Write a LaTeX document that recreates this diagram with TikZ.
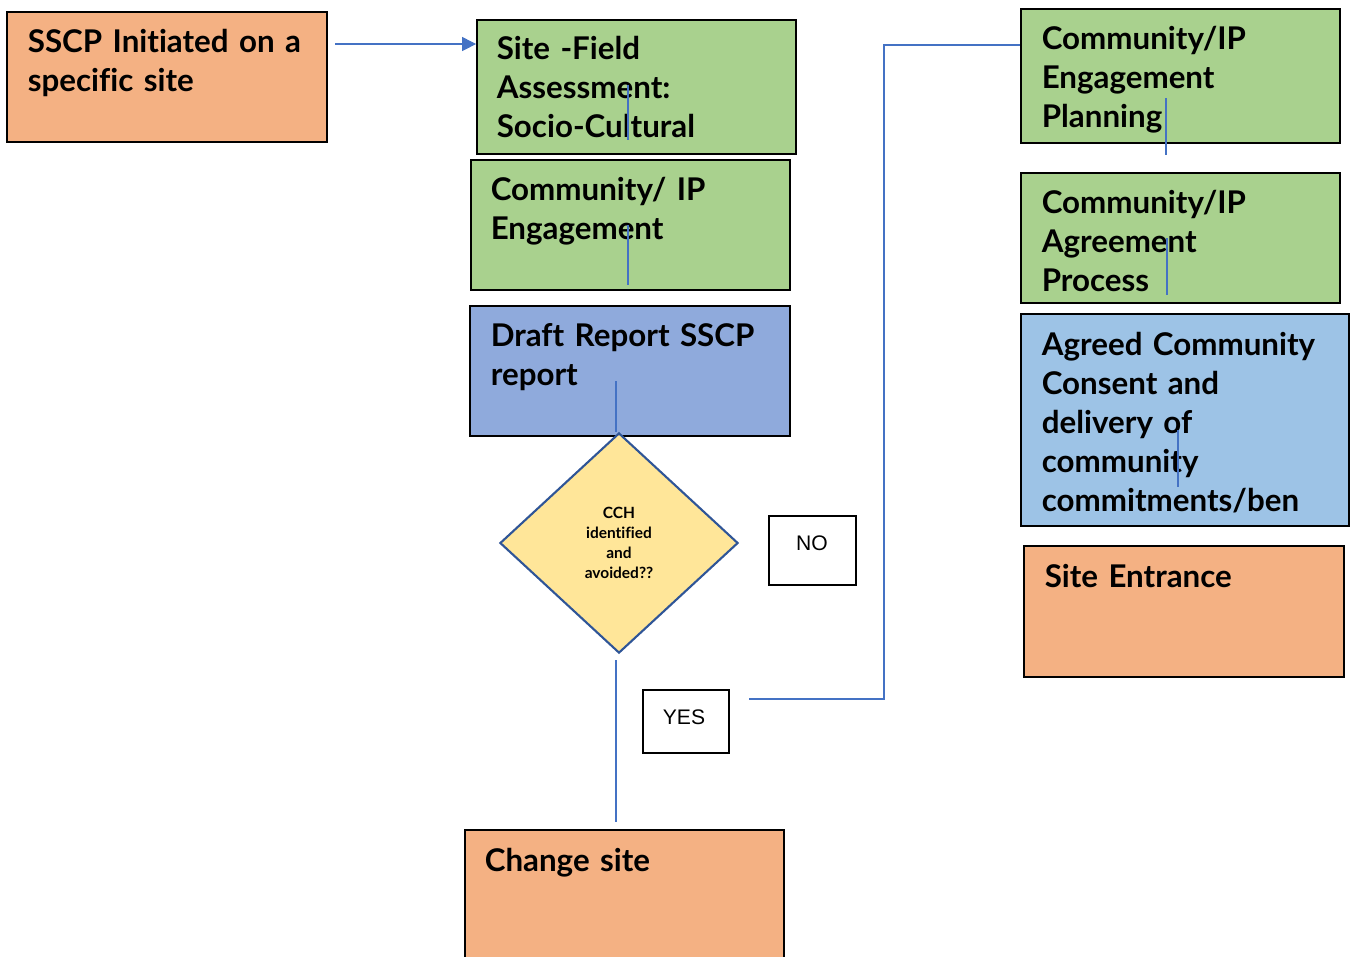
\documentclass[tikz,border=0pt]{standalone}
\usepackage{fontspec}
\setmainfont{Lato}[Ligatures=NoCommon]
\newfontfamily\arialfont{Liberation Sans}
\usetikzlibrary{shapes.geometric}
\usetikzlibrary{arrows.meta}
\definecolor{peach}{HTML}{F4B183}
\definecolor{leafgreen}{HTML}{A9D18E}
\definecolor{cornflower}{HTML}{8FAADC}
\definecolor{skyblue}{HTML}{9DC3E6}
\definecolor{butter}{HTML}{FFE699}
\definecolor{navyedge}{HTML}{2F5597}
\definecolor{linkblue}{HTML}{4472C4}

\tikzset{
  stagebox/.style={draw=black, line width=0.45pt, minimum width=3.2cm, minimum height=1.3cm, inner sep=0pt},
  stagetext/.style={anchor=base west, inner sep=0pt, text width=3.2cm, align=left,
    font=\fontsize{8.9}{11.1}\selectfont\bfseries},
  answerbox/.style={draw=black, line width=0.45pt, fill=white, inner sep=0pt, font=\arialfont\fontsize{6}{7}\selectfont},
  link/.style={draw=linkblue, line width=0.3pt},
}

\begin{document}
\begin{tikzpicture}[x=0.01cm, y=-0.01cm]
        \useasboundingbox (0,0) rectangle (1354,956);

        % Left column
        \node[stagebox, fill=peach, minimum width=3.2cm, minimum height=1.3cm] (init) at (167,77) {};
        \node[stagetext] (initT) at ([shift={(21,41)}]init.north west) {SSCP Initiated on a\\specific site};

        \node[stagebox, fill=leafgreen, minimum width=3.19cm, minimum height=1.34cm] (field) at (636.5,87) {};
        \node[stagetext] (fieldT) at ([shift={(20,40)}]field.north west) {Site -Field\\Assessment:\\Socio-Cultural};

        \node[stagebox, fill=leafgreen, minimum width=3.19cm, minimum height=1.3cm] (engage) at (630.5,225) {};
        \node[stagetext] (engageT) at ([shift={(20,41)}]engage.north west) {Community/ IP\\Engagement};

        \node[stagebox, fill=cornflower, minimum width=3.2cm, minimum height=1.3cm] (draft) at (630,371) {};
        \node[stagetext] (draftT) at ([shift={(21,41)}]draft.north west) {Draft Report SSCP\\report};

        % Decision
        \node[diamond, draw=navyedge, fill=butter, line width=0.6pt, minimum width=2.38cm, minimum height=2.2cm,
          inner sep=0pt, aspect=1.08] (cch) at (619,543) {};
        \node[align=center, inner sep=0pt, font=\fontsize{4.4}{5.7}\selectfont\bfseries] (cchT) at (619,543)
          {CCH\\identified\\and\\avoided??};

        \node[answerbox, minimum width=0.87cm, minimum height=0.69cm] (no) at (812.5,550.5) {};
        \node[inner sep=0pt, font=\arialfont\fontsize{6}{7}\selectfont] (noT) at (812,543) {NO};
        \node[answerbox, minimum width=0.86cm, minimum height=0.63cm] (yes) at (686,721.5) {};
        \node[inner sep=0pt, font=\arialfont\fontsize{6}{7}\selectfont] (yesT) at (684,717) {YES};

        \node[stagebox, fill=peach, minimum width=3.19cm, minimum height=1.4cm] (change) at (624.5,900) {};
        \node[stagetext] (changeT) at ([shift={(20,42)}]change.north west) {Change site};

        % Right column
        \node[stagebox, fill=leafgreen, minimum width=3.19cm, minimum height=1.34cm] (plan) at (1180.5,76) {};
        \node[stagetext] (planT) at ([shift={(21,41)}]plan.north west) {Community/IP\\Engagement\\Planning};

        \node[stagebox, fill=leafgreen, minimum width=3.19cm, minimum height=1.3cm] (agree) at (1180.5,238) {};
        \node[stagetext] (agreeT) at ([shift={(21,41)}]agree.north west) {Community/IP\\Agreement\\Process};

        \node[stagebox, fill=skyblue, minimum width=3.28cm, minimum height=2.12cm] (consent) at (1185,420) {};
        \node[stagetext, text width=3.2cm] (consentT) at ([shift={(21,42)}]consent.north west)
          {Agreed Community\\Consent and\\delivery of\\community\\commitments/ben};

        \node[stagebox, fill=peach, minimum width=3.2cm, minimum height=1.31cm] (entrance) at (1184,611.5) {};
        \node[stagetext] (entranceT) at ([shift={(21,42)}]entrance.north west) {Site Entrance};

        % Connectors
        \coordinate (initR) at (335,44);
        \draw[link, -{Triangle[length=4pt, width=4pt]}] (initR) -- (initR -| field.west);

        \coordinate (fieldA) at (628,85);
        \coordinate (fieldB) at (628,140);
        \draw[link] (fieldA) -- (fieldB);
        \coordinate (engageA) at (628,225);
        \coordinate (engageB) at (628,285);
        \draw[link] (engageA) -- (engageB);
        \coordinate (draftA) at (616,381);
        \draw[link] (draftA) -- (draftA |- cch.north);
        \coordinate (cchB) at (616,660);
        \coordinate (changeA) at (616,822);
        \draw[link] (cchB) -- (changeA);

        \coordinate (planA) at (1166,98);
        \coordinate (planB) at (1166,155);
        \draw[link] (planA) -- (planB);
        \coordinate (agreeA) at (1167,238);
        \coordinate (agreeB) at (1167,295);
        \draw[link] (agreeA) -- (agreeB);
        \coordinate (consentA) at (1178,430);
        \coordinate (consentB) at (1178,487);
        \draw[link] (consentA) -- (consentB);

        % Yes route
        \coordinate (yesR) at (749,699);
        \draw[link, line width=0.65pt] (yesR) -- (884,699) |- ([shift={(0,37)}]plan.north west);

\end{tikzpicture}
\end{document}
